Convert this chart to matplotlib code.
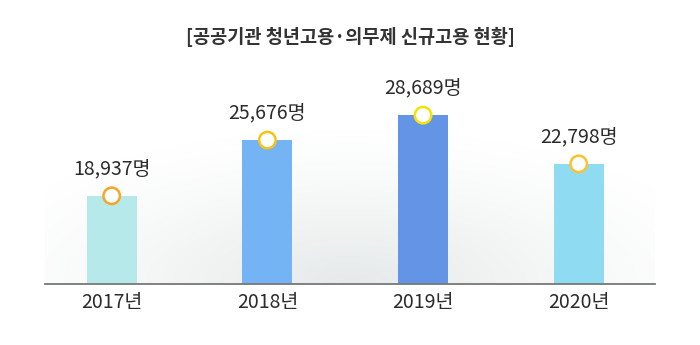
import numpy as np
import matplotlib
matplotlib.use("Agg")
import matplotlib.pyplot as plt

plt.rcParams['font.family'] = ['Noto Sans CJK KR', 'DejaVu Sans']

# data
years = ["2017년", "2018년", "2019년", "2020년"]
hires = [18937, 25676, 28689, 22798]
bar_colors = ["#b5e9ea", "#74b4f4", "#6494e6", "#8fdcf2"]
ring_colors = ["#f7a623", "#f6c414", "#f5e400", "#fbc22e"]
title = "[공공기관 청년고용·의무제 신규고용 현황]"

fig = plt.figure(figsize=(7, 3.45), dpi=100)
ax = fig.add_axes([45 / 700, 61 / 345, 610 / 700, 224 / 345])

x = np.arange(len(years))
ymin, ymax = 8279, 35358

# soft grey glow behind the bars
gx, gy = np.meshgrid(np.linspace(0, 1, 300), np.linspace(0, 1, 200))
r = np.sqrt(((gx - 0.5) / 0.65) ** 2 + (gy / 0.7) ** 2)
alpha = np.clip(1 - r, 0, 1) ** 1.3
glow = np.zeros((200, 300, 4))
glow[..., 0] = 0.9
glow[..., 1] = 0.915
glow[..., 2] = 0.915
glow[..., 3] = alpha
ax.imshow(glow, extent=[0, 1, 0, 1], origin="lower", transform=ax.transAxes,
          aspect="auto", zorder=0)

ax.bar(x, hires, width=0.32, color=bar_colors, zorder=2)
ax.scatter(x, hires, s=140, facecolor="white", edgecolor=ring_colors,
           linewidths=1.8, zorder=3)

for xi, v in zip(x, hires):
    ax.annotate(f"{v:,}명", (xi, v), xytext=(0, 19.5), textcoords="offset points",
                ha="center", va="center", fontsize=14, color="#2b2b2b", zorder=4)

ax.set_xlim(-0.4285, 3.49)
ax.set_ylim(ymin, ymax)
ax.set_xticks(x)
ax.set_xticklabels(years, fontsize=14, color="#2b2b2b")
ax.tick_params(axis="x", length=0, pad=6)
ax.set_yticks([])
for side in ["top", "right", "left"]:
    ax.spines[side].set_visible(False)
ax.spines["bottom"].set_color("#777777")
ax.spines["bottom"].set_linewidth(1.3)
ax.spines["bottom"].set_zorder(5)

fig.text(0.5, 1 - 37 / 345, title, ha="center", va="center", fontsize=13.4,
         fontweight="bold", color="#333333")

fig.savefig("out.png", dpi=100, facecolor="white")
